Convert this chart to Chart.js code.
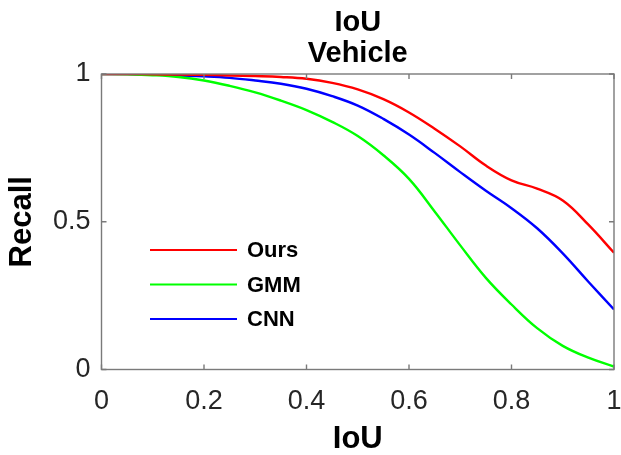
<!DOCTYPE html>
<html>
<head>
<meta charset="utf-8">
<script src="https://cdn.jsdelivr.net/npm/chart.js@4.4.1/dist/chart.umd.min.js"></script>
<style>
  html, body { margin: 0; padding: 0; background: #fff; }
  #wrap { width: 621px; height: 455px; }
</style>
</head>
<body>
<div id="wrap"><canvas id="c" width="621" height="455"></canvas></div>
<script>
const titleLines = ['IoU', 'Vehicle'];
const xAxisTitle = 'IoU';
const yAxisTitle = 'Recall';
const iou = [0, 0.05, 0.1, 0.15, 0.2, 0.25, 0.3, 0.35, 0.4, 0.45, 0.5, 0.55, 0.6, 0.65, 0.7, 0.75, 0.8, 0.85, 0.9, 0.95, 1.0];
const seriesNames = ['Ours', 'GMM', 'CNN'];
const ours = [1, 1, 0.999, 0.998, 0.997, 0.995, 0.993, 0.99, 0.984, 0.970, 0.948, 0.915, 0.870, 0.815, 0.755, 0.690, 0.640, 0.612, 0.572, 0.490, 0.395];
const gmm  = [1, 0.999, 0.996, 0.99, 0.978, 0.96, 0.938, 0.91, 0.878, 0.838, 0.79, 0.725, 0.645, 0.535, 0.420, 0.31, 0.22, 0.14, 0.08, 0.04, 0.01];
const cnn  = [1, 1, 0.998, 0.995, 0.992, 0.987, 0.978, 0.967, 0.950, 0.925, 0.893, 0.848, 0.795, 0.733, 0.668, 0.605, 0.546, 0.478, 0.393, 0.297, 0.203];
const xTickLabels = ['0', '0.2', '0.4', '0.6', '0.8', '1'];
const yTickLabels = ['0', '0.5', '1'];

const FONT = "'Liberation Sans', Arial, Helvetica, sans-serif";
const AXIS_GRAY = '#7a7a7a';

function toPts(xs, ys) { return xs.map((x, i) => ({ x: x, y: ys[i] })); }

const boxPlugin = {
  id: 'matlabBox',
  afterDatasetsDraw(chart) {
    const ctx = chart.ctx;
    const a = chart.chartArea;
    const xs = chart.scales.x, ys = chart.scales.y;
    ctx.save();
    ctx.strokeStyle = AXIS_GRAY;
    ctx.lineWidth = 1.4;
    ctx.strokeRect(a.left, a.top, a.right - a.left, a.bottom - a.top);
    const tl = 5;
    ctx.beginPath();
    xs.ticks.forEach(t => {
      const px = xs.getPixelForValue(t.value);
      ctx.moveTo(px, a.bottom); ctx.lineTo(px, a.bottom - tl);
      ctx.moveTo(px, a.top); ctx.lineTo(px, a.top + tl);
    });
    ys.ticks.forEach(t => {
      const py = ys.getPixelForValue(t.value);
      ctx.moveTo(a.left, py); ctx.lineTo(a.left + tl, py);
      ctx.moveTo(a.right, py); ctx.lineTo(a.right - tl, py);
    });
    ctx.stroke();

    // title (centred over plot area)
    ctx.fillStyle = '#000';
    ctx.font = "bold 29px " + FONT;
    ctx.textAlign = 'center';
    ctx.textBaseline = 'middle';
    const cx = (a.left + a.right) / 2;
    ctx.fillText(titleLines[0], cx, 23);
    ctx.fillText(titleLines[1], cx, 54);

    // legend inside plot area
    ctx.font = "bold 22px " + FONT;
    ctx.textAlign = 'left';
    const lx0 = 150, lx1 = 237, ly0 = 250, dy = 34.5;
    chart.data.datasets.forEach((ds, i) => {
      const y = ly0 + i * dy;
      ctx.strokeStyle = ds.borderColor;
      ctx.lineWidth = 2;
      ctx.beginPath(); ctx.moveTo(lx0, y); ctx.lineTo(lx1, y); ctx.stroke();
      ctx.fillStyle = '#000';
      ctx.fillText(ds.label, 247, y + 1);
    });
    ctx.restore();
  }
};

new Chart(document.getElementById('c'), {
  type: 'line',
  data: {
    datasets: [
      { label: seriesNames[0], data: toPts(iou, ours), borderColor: '#ff0000' },
      { label: seriesNames[1], data: toPts(iou, gmm),  borderColor: '#00ff00' },
      { label: seriesNames[2], data: toPts(iou, cnn),  borderColor: '#0000ff' }
    ].map(d => Object.assign(d, { borderWidth: 2.4, pointRadius: 0, fill: false, tension: 0.4 }))
  },
  options: {
    responsive: false,
    animation: false,
    devicePixelRatio: 1,
    layout: { padding: { top: 74, right: 7, left: 0, bottom: 0 } },
    plugins: {
      legend: { display: false },
      tooltip: { enabled: false },
      title: { display: false }
    },
    scales: {
      x: {
        type: 'linear', min: 0, max: 1,
        grid: { display: false, drawTicks: false },
        border: { display: false },
        ticks: {
          stepSize: 0.2, padding: 16, color: '#262626', maxRotation: 0,
          font: { family: FONT, size: 27 },
          callback: (v, i) => xTickLabels[i]
        },
        title: { display: true, text: xAxisTitle, color: '#000', padding: { top: 0, bottom: 0 },
                 font: { family: FONT, size: 31, weight: 'bold', lineHeight: 1 } },
        afterFit: s => { s.height = 85.5; s.paddingLeft = 0; s.paddingRight = 0; }
      },
      y: {
        type: 'linear', min: 0, max: 1,
        grid: { display: false, drawTicks: false },
        border: { display: false },
        ticks: {
          stepSize: 0.5, padding: 11, color: '#262626',
          font: { family: FONT, size: 27 },
          callback: (v, i) => yTickLabels[i]
        },
        title: { display: true, text: yAxisTitle, color: '#000', padding: { top: 7, bottom: 0 },
                 font: { family: FONT, size: 31, weight: 'bold', lineHeight: 1 } },
        afterFit: s => { s.width = 101.5; s.paddingTop = 0; s.paddingBottom = 0; }
      }
    }
  },
  plugins: [boxPlugin]
});
</script>
</body>
</html>
